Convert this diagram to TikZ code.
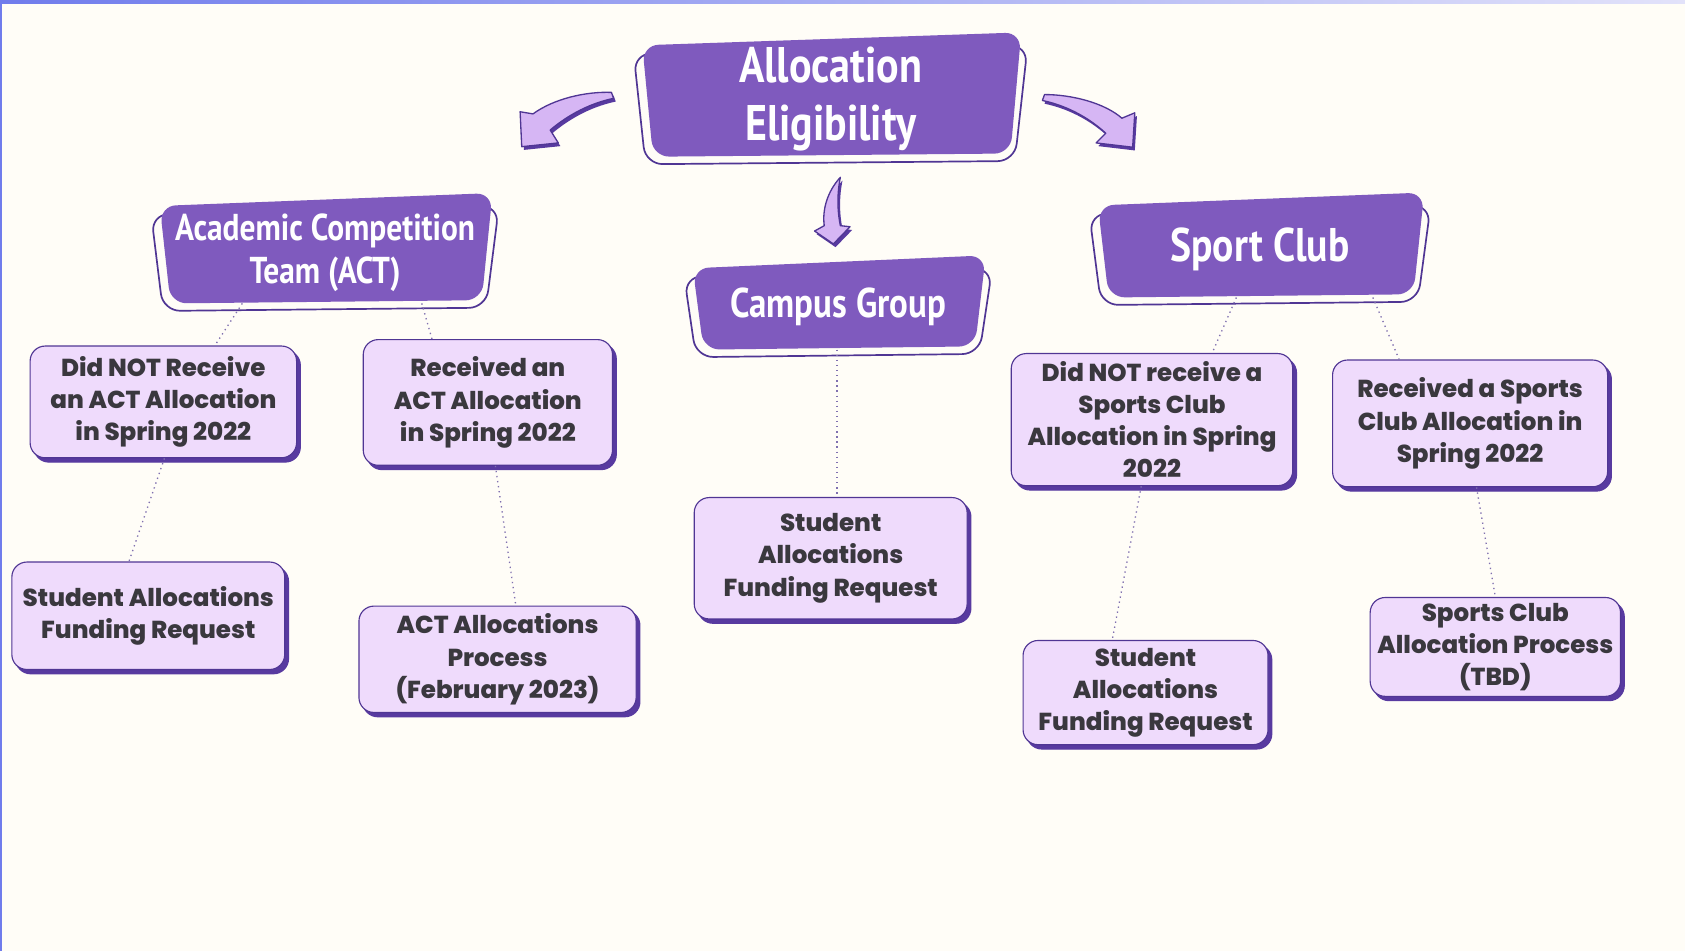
\documentclass[tikz,border=0pt]{standalone}
\usepackage{fontspec}
\setmainfont{Poppins}[BoldFont={Poppins ExtraBold}]
\newfontfamily\headfont{PT Sans}[FakeStretch=0.84]
\usetikzlibrary{backgrounds,shadows}

\definecolor{cream}{RGB}{255,253,247}
\definecolor{plum}{RGB}{127,90,190}
\definecolor{ink}{RGB}{80,54,148}
\definecolor{lilac}{RGB}{239,219,252}
\definecolor{deep}{RGB}{88,58,160}
\definecolor{txt}{RGB}{58,56,62}
\definecolor{linkc}{RGB}{128,112,176}
\definecolor{arrowc}{RGB}{214,182,244}
\definecolor{edgeA}{RGB}{112,124,236}
\definecolor{edgeB}{RGB}{226,226,250}

\begin{document}
\begin{tikzpicture}[x=0.02cm,y=-0.02cm,
  head/.style={text=white, align=center, inner sep=0pt},
  plate/.style={fill=plum, rounded corners=0.3cm},
  plateback/.style={fill=cream, draw=ink, line width=0.9pt, rounded corners=0.32cm},
  card/.style={fill=lilac, draw=ink, line width=0.6pt, rounded corners=0.28cm,
    align=center, text=txt, inner sep=0pt,
    font=\fontsize{13}{17}\selectfont\bfseries,
    copy shadow={shadow xshift=0.07cm, shadow yshift=-0.08cm, fill=deep, draw=deep}},
  link/.style={draw=linkc, dotted, line width=0.7pt},
  bow/.style={fill=arrowc, draw=ink, line width=0.7pt, line join=round,
    preaction={fill=deep, transform canvas={xshift=0.04cm, yshift=-0.06cm}}}
]
\useasboundingbox (0,0) rectangle (1568,885);

% headings
\node[head, font={\headfont\fontsize{26.5}{31}\selectfont\bfseries}, minimum width=7.08cm, minimum height=2.3cm] (root) at (773,92) {Allocation\\Eligibility};
\node[head, font={\headfont\fontsize{19.8}{22.5}\selectfont\bfseries}, minimum width=6.22cm, minimum height=2.04cm] (act) at (302.5,235) {Academic Competition\\Team (ACT)};
\node[head, font={\headfont\fontsize{22}{26}\selectfont\bfseries}, minimum width=5.48cm, minimum height=1.74cm] (camp) at (780,285.5) {Campus Group};
\node[head, font={\headfont\fontsize{25}{30}\selectfont\bfseries}, minimum width=6.10cm, minimum height=1.94cm] (sport) at (1172.5,232) {Sport Club};

% plates behind the headings
\begin{scope}[on background layer]
\fill[cream] (0,0) rectangle (1568,885);
\fill[left color=edgeA, right color=edgeB] (0,0) rectangle (1568,3);
\fill[edgeA] (0,0) rectangle (2,885);
\foreach \n in {root,act,camp,sport}{
  \draw[plateback] ([shift={(-6,16)}]\n.north west) -- ([shift={(5,3)}]\n.south west) -- ([shift={(-6,0)}]\n.south east) -- ([shift={(6,8)}]\n.north east) -- cycle;
  \fill[plate] ([shift={(2,8)}]\n.north west) -- ([shift={(12,-4)}]\n.south west) -- ([shift={(-10,-7)}]\n.south east) -- ([shift={(0,-4)}]\n.north east) -- cycle;
}
\end{scope}

% curved arrows
\draw[bow] (569,86) .. controls (545,85) and (515,92) .. (496,106) -- (484,104) -- (485.5,136.5) -- (519.5,133) -- (512,121) .. controls (525,110) and (545,97) .. (571,91.5) -- cycle;
\draw[bow] (972,88) .. controls (998,88) and (1028,96) .. (1044,110) -- (1056,105) -- (1054,137) -- (1020,133) -- (1029,124) .. controls (1016,112) and (996,99) .. (970,93.5) -- cycle;
\draw[bow] (782,165) .. controls (770,178) and (765,195) .. (767,210) -- (758,215) -- (775.5,227) -- (791,211) -- (782,210) .. controls (779,195) and (779,180) .. (782,165) -- cycle;

% cards
\node[card, minimum width=4.96cm, minimum height=2.08cm] (a) at (152,374) {Did NOT Receive\\an ACT Allocation\\in Spring 2022};
\node[card, minimum width=4.64cm, minimum height=2.34cm] (b) at (454,374.5) {Received an\\ACT Allocation\\in Spring 2022};
\node[card, minimum width=5.08cm, minimum height=2.0cm] (c) at (138,573) {Student Allocations\\Funding Request};
\node[card, minimum width=5.16cm, minimum height=1.98cm] (d) at (463,613.5) {ACT Allocations\\Process\\(February 2023)};
\node[card, minimum width=5.08cm, minimum height=2.26cm] (e) at (773,519.5) {Student\\Allocations\\Funding Request};
\node[card, minimum width=5.24cm, minimum height=2.46cm] (f) at (1072,390.5) {Did NOT receive a\\Sports Club\\Allocation in Spring\\2022};
\node[card, minimum width=5.12cm, minimum height=2.36cm] (g) at (1368,394) {Received a Sports\\Club Allocation in\\Spring 2022};
\node[card, minimum width=4.56cm, minimum height=1.94cm] (h) at (1066,644.5) {Student\\Allocations\\Funding Request};
\node[card, minimum width=4.66cm, minimum height=1.84cm] (i) at (1391.5,602) {Sports Club\\Allocation Process\\(TBD)};

% dotted links
\draw[link] ([shift={(-77,-4)}]act.south) -- ([shift={(48,0)}]a.north);
\draw[link] ([shift={(90,-4)}]act.south) -- ([shift={(-52,0)}]b.north);
\draw[link] ([shift={(1,0)}]a.south) -- ([shift={(-18,0)}]c.north);
\draw[link] ([shift={(7,0)}]b.south) -- ([shift={(17,0)}]d.north);
\draw[link] ([shift={(-1,-4)}]camp.south) -- ([shift={(6,0)}]e.north);
\draw[link] ([shift={(-22,-4)}]sport.south) -- ([shift={(56,0)}]f.north);
\draw[link] ([shift={(105,-4)}]sport.south) -- ([shift={(-66,0)}]g.north);
\draw[link] ([shift={(-10,0)}]f.south) -- ([shift={(-31,0)}]h.north);
\draw[link] ([shift={(6,0)}]g.south) -- ([shift={(0,0)}]i.north);
\end{tikzpicture}
\end{document}
